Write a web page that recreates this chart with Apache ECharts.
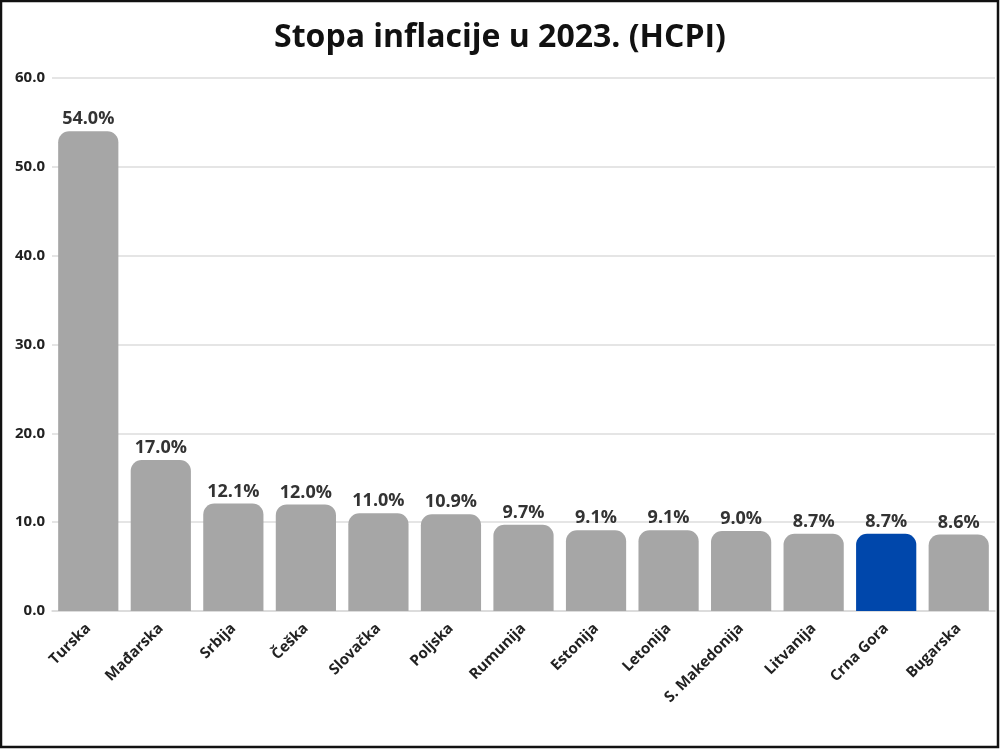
<!DOCTYPE html>
<html><head><meta charset="utf-8">
<script src="https://cdn.jsdelivr.net/npm/echarts@6/dist/echarts.min.js"></script>
<style>html,body{margin:0;padding:0;background:#fff}#c{width:1000px;height:749px}</style>
</head><body><div id="c"></div>
<script>
const categories = ['Turska','Mađarska','Srbija','Češka','Slovačka','Poljska','Rumunija','Estonija','Letonija','S. Makedonija','Litvanija','Crna Gora','Bugarska'];
const values = [54.0,17.0,12.1,12.0,11.0,10.9,9.7,9.1,9.1,9.0,8.7,8.7,8.6];
const highlight = 'Crna Gora';
const yTicks = {min:0,max:60,interval:10};
const chart = echarts.init(document.getElementById('c'));
chart.setOption({
  animation:false,
  title:{text:'Stopa inflacije u 2023. (HCPI)',left:'center',top:17,
    textStyle:{fontFamily:'Open Sans',fontWeight:'bold',fontSize:32,color:'#111'}},
  grid:{left:52,right:5,top:78,bottom:138},
  graphic:[{type:'rect',shape:{x:1,y:1,width:997,height:746},style:{fill:'none',stroke:'#111',lineWidth:2.5},z:100}],
  xAxis:{type:'category',data:categories,
    axisLine:{show:true,lineStyle:{color:'#d9d9d9',width:1.5}},axisTick:{show:false},
    axisLabel:{rotate:45,interval:0,margin:15,fontFamily:'Open Sans',fontWeight:'bold',fontSize:15,color:'#222'}},
  yAxis:{type:'value',min:yTicks.min,max:yTicks.max,interval:yTicks.interval,
    axisLine:{show:false},axisTick:{show:false},
    splitLine:{lineStyle:{color:'#dcdcdc',width:1.5}},
    axisLabel:{margin:7,fontFamily:'Open Sans',fontWeight:'bold',fontSize:15,color:'#222',
      formatter:v=>v.toFixed(1)}},
  series:[{type:'bar',barCategoryGap:'17%',
    data:values.map((v,i)=>({value:v,itemStyle:{color:categories[i]===highlight?'#0047AB':'#A6A6A6'}})),
    itemStyle:{borderRadius:[11,11,0,0]},
    label:{show:true,position:'top',distance:3,fontFamily:'Open Sans',fontWeight:'bold',fontSize:18,color:'#333',
      formatter:p=>p.value.toFixed(1)+'%'}}]
});
</script></body></html>
